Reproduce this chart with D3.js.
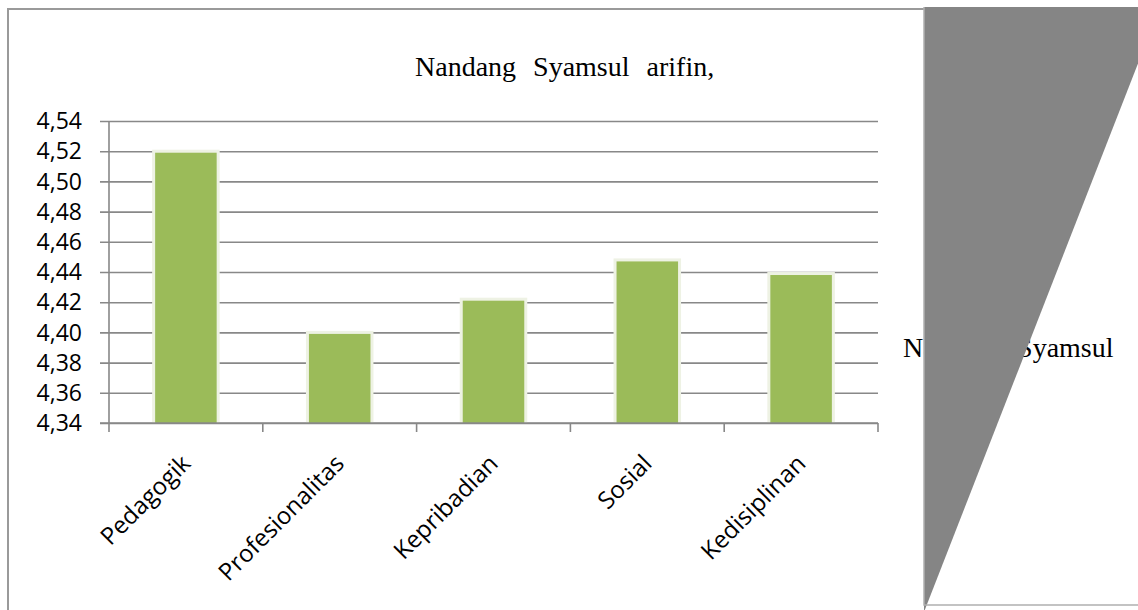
<!DOCTYPE html>
<html>
<head>
<meta charset="utf-8">
<script src="https://cdn.jsdelivr.net/npm/d3@7"></script>
<style>
  body { margin: 0; background: #fff; }
  svg { display: block; }
</style>
</head>
<body>
<svg id="chart"></svg>
<script>
const categories = ["Pedagogik", "Profesionalitas", "Kepribadian", "Sosial", "Kedisiplinan"];
const values = [4.519, 4.399, 4.421, 4.447, 4.438];
const yTicks = [4.34, 4.36, 4.38, 4.40, 4.42, 4.44, 4.46, 4.48, 4.50, 4.52, 4.54];
const title = "Nandang Syamsul arifin,";
const seriesName = "Nandang Syamsul";

const W = 1138, H = 610;
const margin = { top: 121, left: 109, right: 260, bottom: 187 };
const width = W - margin.left - margin.right,
  height = H - margin.top - margin.bottom;

const svg = d3.select("#chart").attr("width", W).attr("height", H);

// outer chart frame (left + top edges visible)
svg.append("path")
  .attr("d", "M8,610 L8,9 L924,9")
  .attr("fill", "none")
  .attr("stroke", "#9a9a9a")
  .attr("stroke-width", 2);

svg.append("text")
  .attr("x", 415).attr("y", 76)
  .style("font-family", "'Liberation Serif', 'Times New Roman', serif")
  .style("font-size", "28px")
  .style("word-spacing", "10px")
  .attr("fill", "#000")
  .text(title);

const g = svg.append("g").attr("transform", `translate(${margin.left},${margin.top})`);

const x = d3.scaleBand()
  .domain(categories)
  .range([0, width])
  .paddingInner(0.6)
  .paddingOuter(0.3);

const xb = d3.scaleBand().domain(categories).range([0, width]).padding(0);

const y = d3.scaleLinear()
  .domain([d3.min(yTicks), d3.max(yTicks)])
  .range([height, 0]);

const fmt = v => d3.format(".2f")(v).replace(".", ",");

// gridlines
g.append("g")
  .attr("transform", "translate(-9,0)")
  .call(d3.axisLeft(y).tickValues(yTicks).tickSize(0).tickFormat(""))
  .call(s => s.select(".domain").remove())
  .call(s => s.selectAll("line").attr("stroke", "#888").attr("stroke-width", 1.6).attr("x1", 0).attr("x2", width + 9));

g.selectAll(".ylab")
  .data(yTicks)
  .enter()
  .append("text")
  .attr("x", -27)
  .attr("y", d => y(d))
  .attr("dy", "0.36em")
  .style("text-anchor", "end")
  .style("font-family", "'Open Sans', sans-serif")
  .style("font-size", "23px")
  .attr("fill", "#000")
  .text(fmt);

// bars with light glow edge
g.selectAll(".glow")
  .data(values)
  .enter()
  .append("rect")
  .attr("x", (d, i) => x(categories[i]) - 3)
  .attr("y", d => y(d) - 3)
  .attr("width", x.bandwidth() + 6)
  .attr("height", d => height - y(d) + 3)
  .attr("fill", "#eef2e4");

g.selectAll(".bar")
  .data(values)
  .enter()
  .append("rect")
  .attr("x", (d, i) => x(categories[i]))
  .attr("y", d => y(d))
  .attr("width", x.bandwidth())
  .attr("height", d => height - y(d))
  .attr("fill", "#9bbb59");

// y axis line
g.append("line")
  .attr("x1", 0).attr("x2", 0)
  .attr("y1", 0).attr("y2", height + 9)
  .attr("stroke", "#888").attr("stroke-width", 1.6);

// x axis line + category boundary ticks
g.append("line")
  .attr("x1", -9).attr("x2", width)
  .attr("y1", height).attr("y2", height)
  .attr("stroke", "#888").attr("stroke-width", 1.6);

g.selectAll(".xtick")
  .data(categories)
  .enter()
  .append("line")
  .attr("x1", d => xb(d) + xb.bandwidth())
  .attr("x2", d => xb(d) + xb.bandwidth())
  .attr("y1", height).attr("y2", height + 9)
  .attr("stroke", "#888").attr("stroke-width", 1.6);

g.selectAll(".xlab")
  .data(categories)
  .enter()
  .append("text")
  .attr("transform", d => `translate(${x(d) + x.bandwidth() / 2 + 6},${height + 42})rotate(-45)`)
  .style("text-anchor", "end")
  .style("font-family", "'Open Sans', sans-serif")
  .style("font-size", "24px")
  .attr("fill", "#000")
  .text(d => d);

// legend text (partly hidden by the shape on the right)
svg.append("text")
  .attr("x", 903).attr("y", 357)
  .style("font-family", "'Liberation Serif', 'Times New Roman', serif")
  .style("font-size", "28px")
  .style("word-spacing", "6px")
  .attr("fill", "#000")
  .text(seriesName);

// right-hand box with grey triangle
svg.append("path")
  .attr("d", "M924,7 L1160,7 L924,612 Z")
  .attr("fill", "#858585");

svg.append("path")
  .attr("d", "M924,7 L924,605 L1138,605")
  .attr("fill", "none")
  .attr("stroke", "#b0b0b0")
  .attr("stroke-width", 1.5);
</script>
</body>
</html>
